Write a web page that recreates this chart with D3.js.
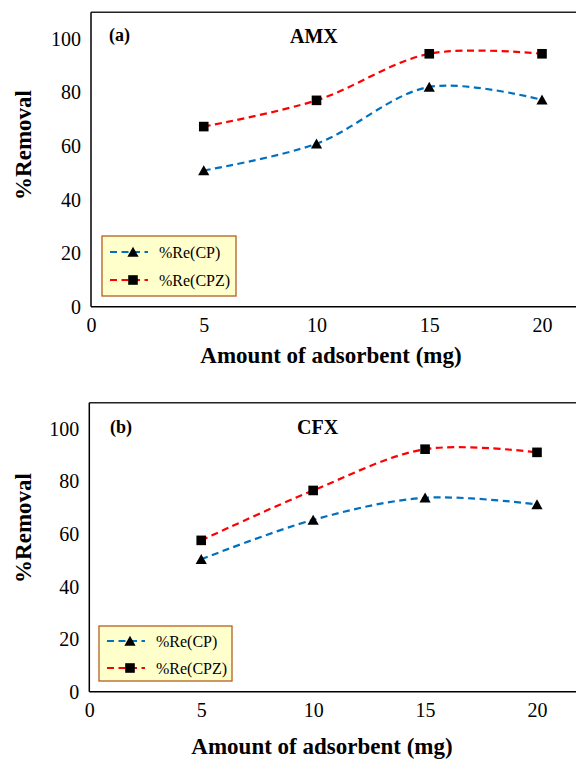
<!DOCTYPE html>
<html><head><meta charset="utf-8">
<script src="https://cdn.jsdelivr.net/npm/d3@7"></script>
<style>body{margin:0;background:#fff}svg{display:block}svg text{font-family:"Liberation Serif","Times New Roman",serif}</style>
</head><body>
<svg id="chart" width="576" height="760"></svg>
<script>
// ---- data ----
const doses = [5, 10, 15, 20];
const xTickValues = [0, 5, 10, 15, 20];
const yTickValues = [0, 20, 40, 60, 80, 100];
const amxCP  = [50.9, 60.9, 82.1, 77.3];
const amxCPZ = [67.3, 77.1, 94.5, 94.5];
const cfxCP  = [50.4, 65.4, 73.8, 71.3];
const cfxCPZ = [57.6, 76.6, 92.3, 91.1];
const seriesNames = ["%Re(CP)", "%Re(CPZ)"];
const panelTags = ["(a)", "(b)"];
const panelTitles = ["AMX", "CFX"];
const xTitle = "Amount of adsorbent (mg)";
const yTitle = "%Removal";

// ---- styling / layout ----
const W = 576;
const FONT = '"Liberation Serif","Times New Roman",serif';
const colors = ["#0070C0", "#FF0000"];
const svg = d3.select("#chart");

const layouts = [
  {left:91, top:12.3, bottom:306.7, x20:542, yl:[23,145], xl:[331,363], tag:[109,41], title:[290,43],
   legend:{x:102, y:236, w:134, h:60, rows:[252,280]}},
  {left:89.3, top:402.7, bottom:691.7, x20:537, yl:[23,528], xl:[322,754], tag:[110,433], title:[297,434],
   legend:{x:99, y:626, w:133, h:55, rows:[641,668]}}
];
const panels = [
  {series:[amxCP, amxCPZ]},
  {series:[cfxCP, cfxCPZ]}
];

function marker(g, type, cx, cy) {
  if (type === 0) {
    g.append("path").attr("d", "M0,-5.2L5.6,4.8L-5.6,4.8Z")
      .attr("transform", `translate(${cx},${cy})`).attr("fill", "#000");
  } else {
    g.append("rect").attr("x", cx - 4.8).attr("y", cy - 4.8)
      .attr("width", 9.6).attr("height", 9.6).attr("fill", "#000");
  }
}

panels.forEach((p, i) => {
  const L = layouts[i];
  const x = d3.scaleLinear().domain([0, 20]).range([L.left, L.x20]);
  const y = d3.scaleLinear().domain([0, 110]).range([L.bottom, L.top]);
  const g = svg.append("g");

  // frame: top border, left axis, bottom axis
  g.append("line").attr("x1", x(0)).attr("x2", W).attr("y1", y(110)).attr("y2", y(110))
    .attr("stroke", "#222").attr("stroke-width", 1.5);
  g.append("line").attr("x1", x(0)).attr("x2", x(0)).attr("y1", y(110)).attr("y2", y(0))
    .attr("stroke", "#000").attr("stroke-width", 1.5);
  g.append("line").attr("x1", x(0)).attr("x2", W).attr("y1", y(0)).attr("y2", y(0))
    .attr("stroke", "#000").attr("stroke-width", 1.5);

  // axes (labels only)
  const yAxis = g.append("g").attr("transform", `translate(${x(0)},0)`)
    .call(d3.axisLeft(y).tickValues(yTickValues).tickSize(0).tickPadding(10));
  yAxis.attr("font-family", null).attr("font-size", null);
  yAxis.select(".domain").remove();
  yAxis.selectAll("text").style("font-family", FONT).style("font-size", "20px").attr("fill", "#000");

  const xAxis = g.append("g").attr("transform", `translate(0,${y(0)})`)
    .call(d3.axisBottom(x).tickValues(xTickValues).tickSize(0).tickPadding(11));
  xAxis.attr("font-family", null).attr("font-size", null);
  xAxis.select(".domain").remove();
  xAxis.selectAll("text").style("font-family", FONT).style("font-size", "20px").attr("fill", "#000");

  // titles
  g.append("text").attr("x", L.xl[0]).attr("y", L.xl[1]).attr("text-anchor", "middle")
    .style("font-family", FONT).style("font-weight", "bold").style("font-size", "23px").text(xTitle);
  g.append("text").attr("transform", `translate(${L.yl[0]},${L.yl[1]}) rotate(-90)`)
    .attr("text-anchor", "middle").attr("dominant-baseline", "central")
    .style("font-family", FONT).style("font-weight", "bold").style("font-size", "23px").text(yTitle);
  g.append("text").attr("x", L.tag[0]).attr("y", L.tag[1])
    .style("font-family", FONT).style("font-weight", "bold").style("font-size", "18px").text(panelTags[i]);
  g.append("text").attr("x", L.title[0]).attr("y", L.title[1])
    .style("font-family", FONT).style("font-weight", "bold").style("font-size", "20px").text(panelTitles[i]);

  // series
  const line = d3.line().x(d => x(d[0])).y(d => y(d[1])).curve(d3.curveCatmullRom.alpha(0.5));
  p.series.forEach((vals, s) => {
    const pts = doses.map((d, k) => [d, vals[k]]);
    g.append("path").attr("d", line(pts)).attr("fill", "none")
      .attr("stroke", colors[s]).attr("stroke-width", 2.2).attr("stroke-dasharray", "7,4.5");
    pts.forEach(pt => marker(g, s, x(pt[0]), y(pt[1])));
  });

  // legend
  const lg = L.legend;
  g.append("rect").attr("x", lg.x).attr("y", lg.y).attr("width", lg.w).attr("height", lg.h)
    .attr("fill", "#FFFFCC").attr("stroke", "#B35F1E").attr("stroke-width", 1.3);
  seriesNames.forEach((nm, s) => {
    const ry = lg.rows[s];
    g.append("line").attr("x1", lg.x + 8).attr("x2", lg.x + 46).attr("y1", ry).attr("y2", ry)
      .attr("stroke", colors[s]).attr("stroke-width", 2.2).attr("stroke-dasharray", "7,4.5");
    marker(g, s, lg.x + 31, ry);
    g.append("text").attr("x", lg.x + 57).attr("y", ry).attr("dominant-baseline", "central")
      .style("font-family", FONT).style("font-size", "16px").text(nm);
  });
});
</script>
</body></html>
